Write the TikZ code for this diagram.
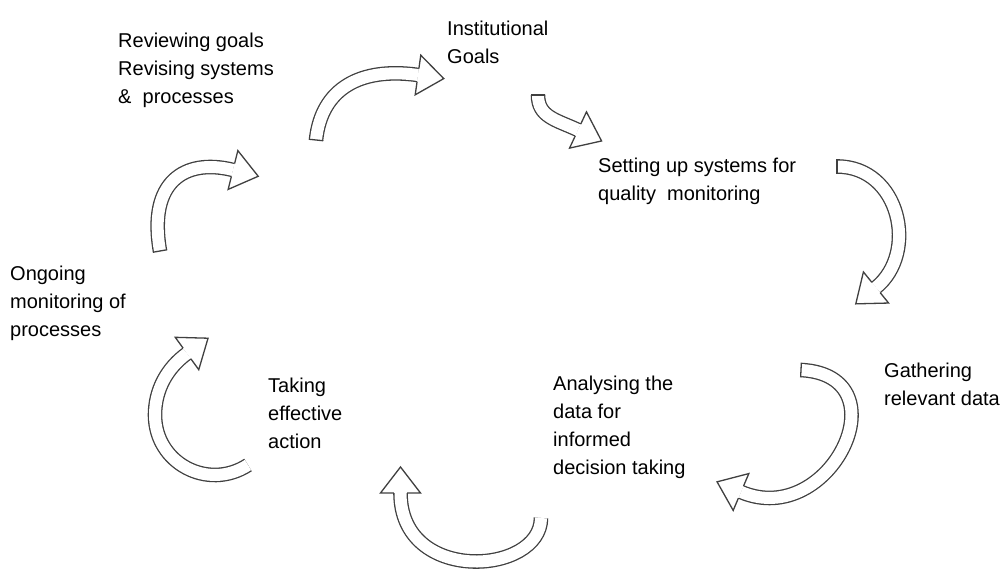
\documentclass[tikz,border=0pt]{standalone}
\usepackage{fontspec}
\setmainfont{Liberation Sans}
\usetikzlibrary{calc}

\newcommand{\shafthw}{6.6}
\newcommand{\headhw}{20}
\newcommand{\headlen}{26}
\newcommand{\cyclehead}[2]{%
  \fill[white] ($(#1)+(#2+90:\headhw)$) -- ($(#1)+(#2:\headlen)$) -- ($(#1)+(#2-90:\headhw)$) -- cycle;
  \draw[arrline] ($(#1)+(#2+90:\shafthw)$) -- ($(#1)+(#2+90:\headhw)$) -- ($(#1)+(#2:\headlen)$)
    -- ($(#1)+(#2-90:\headhw)$) -- ($(#1)+(#2-90:\shafthw)$);}
\newcommand{\cycletail}[2]{%
  \draw[arrline,line cap=rect] ($(#1)+(#2+90:\shafthw)$) -- ($(#1)+(#2-90:\shafthw)$);}

\begin{document}
\begin{tikzpicture}[x=1pt,y=1pt,
    arrline/.style={draw=black!75,line width=1.3pt,line join=miter},
    shaft/.style={arrline,double=white,double distance=12pt},
    txt/.style={anchor=north west,inner sep=0pt,align=left,font=\fontsize{20}{28}\selectfont}]
  \useasboundingbox (0,0) rectangle (1005,572);
  \fill[white] (0,0) rectangle (1005,572);

  \node[txt] (review) at (118,539) {Reviewing goals\\Revising systems\\\&\ \ processes};
  \node[txt] (goals) at (447,551) {Institutional\\Goals};
  \node[txt] (setup) at (598,414) {Setting up systems for\\quality\ \ monitoring};
  \node[txt] (gather) at (884,209) {Gathering\\relevant data};
  \node[txt] (analyse) at (553,196) {Analysing the\\data for\\informed\\decision taking};
  \node[txt] (action) at (268,194) {Taking\\effective\\action};
  \node[txt] (monitor) at (10,306) {Ongoing\\monitoring of\\processes};

  \coordinate (s1) at (316,432);   \coordinate (e1) at (418,497);
  \coordinate (s2) at (538,477);   \coordinate (e2) at (578,442);
  \coordinate (s3) at (837,405.5); \coordinate (e3) at (876,284.5);
  \coordinate (s4) at (801,202);   \coordinate (e4) at (741,80);
  \coordinate (s5) at (541,54);    \coordinate (e5) at (400.5,79);
  \coordinate (s6) at (248,107);   \coordinate (m6) at (155,157);
  \coordinate (e6) at (187,218.5);
  \coordinate (s7) at (160,321);   \coordinate (e7) at (233,402);

  \draw[shaft] (s1) .. controls +(84:52) and +(172:58) .. (e1);
  \cycletail{s1}{84}\cyclehead{e1}{-8}
  \draw[shaft] (s2) .. controls +(-90:22) and +(155:24) .. (e2);
  \cycletail{s2}{-90}\cyclehead{e2}{-25}
  \draw[shaft] (s3) .. controls +(0:63) and +(39:55) .. (e3);
  \cycletail{s3}{0}\cyclehead{e3}{-141}
  \draw[shaft] (s4) .. controls +(-3:104) and +(-23:97) .. (e4);
  \cycletail{s4}{-3}\cyclehead{e4}{157}
  \draw[shaft] (s5) .. controls +(-90:57) and +(-90:92) .. (e5);
  \cyclehead{e5}{90}
  \draw[shaft] (s6) .. controls +(-147:48) and +(-90:48) .. (m6)
    .. controls +(90:25) and +(216:25) .. (e6);
  \cyclehead{e6}{36}
  \draw[shaft] (s7) .. controls +(100:70) and +(166:50) .. (e7);
  \cycletail{s7}{100}\cyclehead{e7}{-14}
\end{tikzpicture}
\end{document}
